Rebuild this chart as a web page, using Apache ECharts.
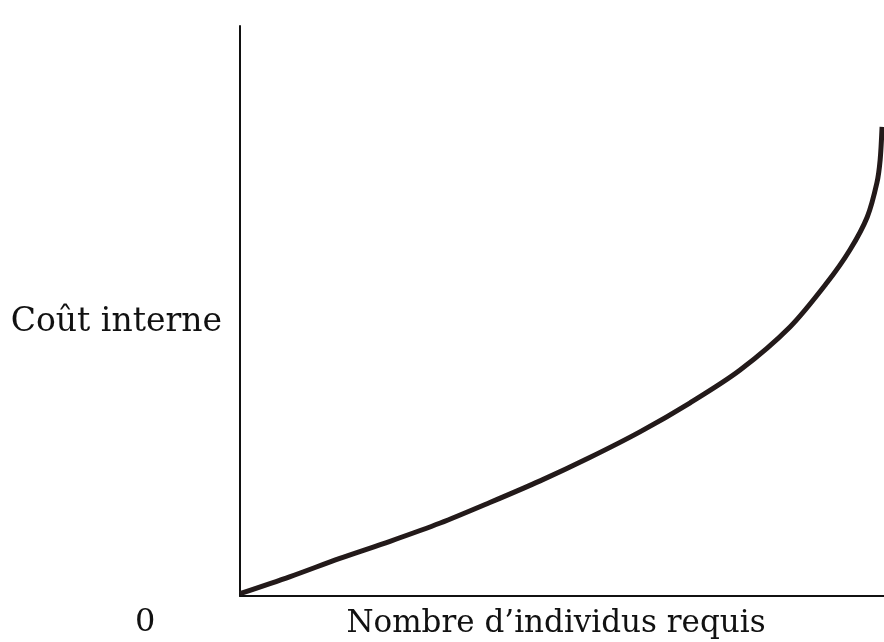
<!DOCTYPE html>
<html>
<head>
<meta charset="utf-8">
<script src="https://cdn.jsdelivr.net/npm/echarts@6/dist/echarts.min.js"></script>
<style>
  html, body { margin: 0; padding: 0; background: #ffffff; }
  #chart { width: 884px; height: 642px; }
</style>
</head>
<body>
<div id="chart"></div>
<script>
// courbe du coût interne (échelle 0-100)
var individus = [0, 7.8, 15.5, 23.3, 31.1, 38.8, 46.6, 54.3, 62.1, 69.9, 77.6, 85.4, 91.1, 94.7, 97.4, 98.9, 99.4, 99.7];
var cout = [0.4, 3.4, 6.6, 9.6, 12.8, 16.4, 20.2, 24.3, 28.8, 33.9, 39.6, 47.2, 54.9, 60.7, 66.5, 72.5, 76.5, 82.3];

var fontFam = '"DejaVu Serif", serif';

var myChart = echarts.init(document.getElementById('chart'));
myChart.setOption({
    backgroundColor: '#ffffff',
    animation: false,
    grid: { left: 240, right: 0, top: 26, bottom: 46, outerBoundsMode: 'none' },
    xAxis: {
        type: 'value',
        min: 0,
        max: 100,
        name: 'Nombre d’individus requis',
        nameLocation: 'middle',
        nameGap: 12,
        nameTextStyle: { color: '#111', fontSize: 31, fontFamily: fontFam, verticalAlign: 'top', padding: [0, 12, 0, 0] },
        axisLine: { show: true, lineStyle: { color: '#111', width: 2 } },
        axisTick: { show: false },
        axisLabel: { show: false },
        splitLine: { show: false }
    },
    yAxis: {
        type: 'value',
        min: 0,
        max: 100,
        axisLine: { show: true, lineStyle: { color: '#111', width: 2 } },
        axisTick: { show: false },
        axisLabel: { show: false },
        splitLine: { show: false }
    },
    graphic: [{
        type: 'text',
        right: 884 - 222,
        top: 306,
        style: { text: 'Coût interne', fill: '#111', font: '33px ' + fontFam }
    }, {
        type: 'text',
        left: 135,
        top: 607,
        style: { text: '0', fill: '#111', font: '32px ' + fontFam }
    }],
    series: [{
        type: 'line',
        data: individus.map(function (x, i) { return [x, cout[i]]; }),
        smooth: 0.3,
        showSymbol: false,
        lineStyle: { color: '#231a1a', width: 5 }
    }]
});
</script>
</body>
</html>
